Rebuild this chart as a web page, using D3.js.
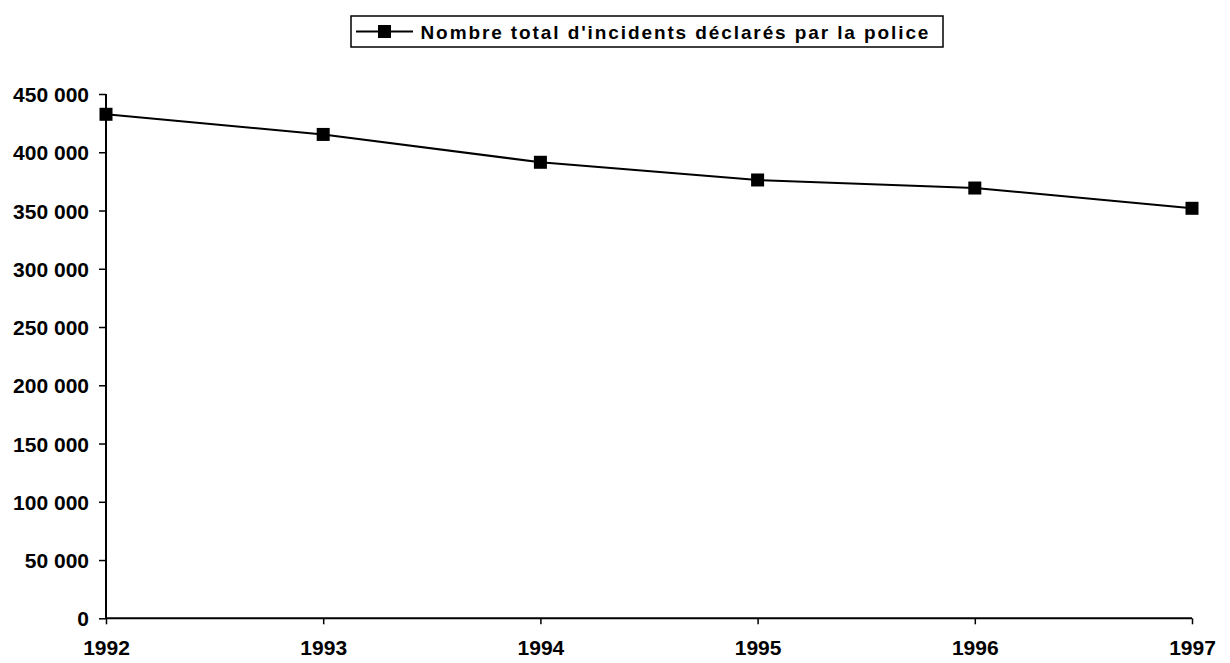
<!DOCTYPE html>
<html><head><meta charset="utf-8">
<script src="https://cdn.jsdelivr.net/npm/d3@7"></script>
<style>
html,body{margin:0;padding:0;background:#fff;}
svg{display:block;}
text{font-family:"Liberation Sans",Arial,sans-serif;font-weight:bold;fill:#000;}
</style></head>
<body>
<svg id="chart" width="1230" height="663"></svg>
<script>
const years = ["1992","1993","1994","1995","1996","1997"];
const incidents = [432600, 415300, 391400, 376200, 369300, 351900];
const yTicks = [0,50000,100000,150000,200000,250000,300000,350000,400000,450000];
const seriesName = "Nombre total d'incidents déclarés par la police";

const svg = d3.select("#chart");
const x = d3.scalePoint().domain(years).range([106,1192]);
const y = d3.scaleLinear().domain([0,450000]).range([618.3,94]);
const fmt = v => d3.format(",")(v).replace(/,/g," ");

const yAxis = svg.append("g").attr("transform","translate(106,0)")
  .call(d3.axisLeft(y).tickValues(yTicks).tickSize(7).tickPadding(10).tickFormat(fmt));
yAxis.select(".domain").attr("stroke","#000").attr("stroke-width",2).attr("d","M0,94V618.3");
yAxis.selectAll(".tick line").attr("stroke","#000").attr("stroke-width",1.5);
yAxis.selectAll(".tick text").style("font-size","21px").attr("dy","0.36em");

const xAxis = svg.append("g").attr("transform","translate(0,618.3)")
  .call(d3.axisBottom(x).tickSize(6).tickPadding(16));
xAxis.select(".domain").attr("stroke","#000").attr("stroke-width",2).attr("d","M106,0H1192");
xAxis.selectAll(".tick line").attr("stroke","#000").attr("stroke-width",1.5);
xAxis.selectAll(".tick text").style("font-size","21px");

const line = d3.line().x((d,i)=>x(years[i])).y(d=>y(d));
svg.append("path").datum(incidents).attr("d",line)
  .attr("fill","none").attr("stroke","#000").attr("stroke-width",2);

const ms = 13;
svg.append("g").selectAll("rect").data(incidents).join("rect")
  .attr("x",(d,i)=>x(years[i])-ms/2).attr("y",d=>y(d)-ms/2)
  .attr("width",ms).attr("height",ms).attr("fill","#000");

// legend
const lg = svg.append("g");
lg.append("rect").attr("x",351).attr("y",16).attr("width",592).attr("height",31)
  .attr("fill","#fff").attr("stroke","#000").attr("stroke-width",1.5);
lg.append("line").attr("x1",356).attr("x2",413).attr("y1",31.5).attr("y2",31.5)
  .attr("stroke","#000").attr("stroke-width",2);
lg.append("rect").attr("x",384.5-ms/2).attr("y",31.5-ms/2).attr("width",ms).attr("height",ms).attr("fill","#000");
lg.append("text").attr("x",420.5).attr("y",38.5).style("font-size","19px")
  .style("letter-spacing","1.9px").text(seriesName);
</script>
</body></html>
